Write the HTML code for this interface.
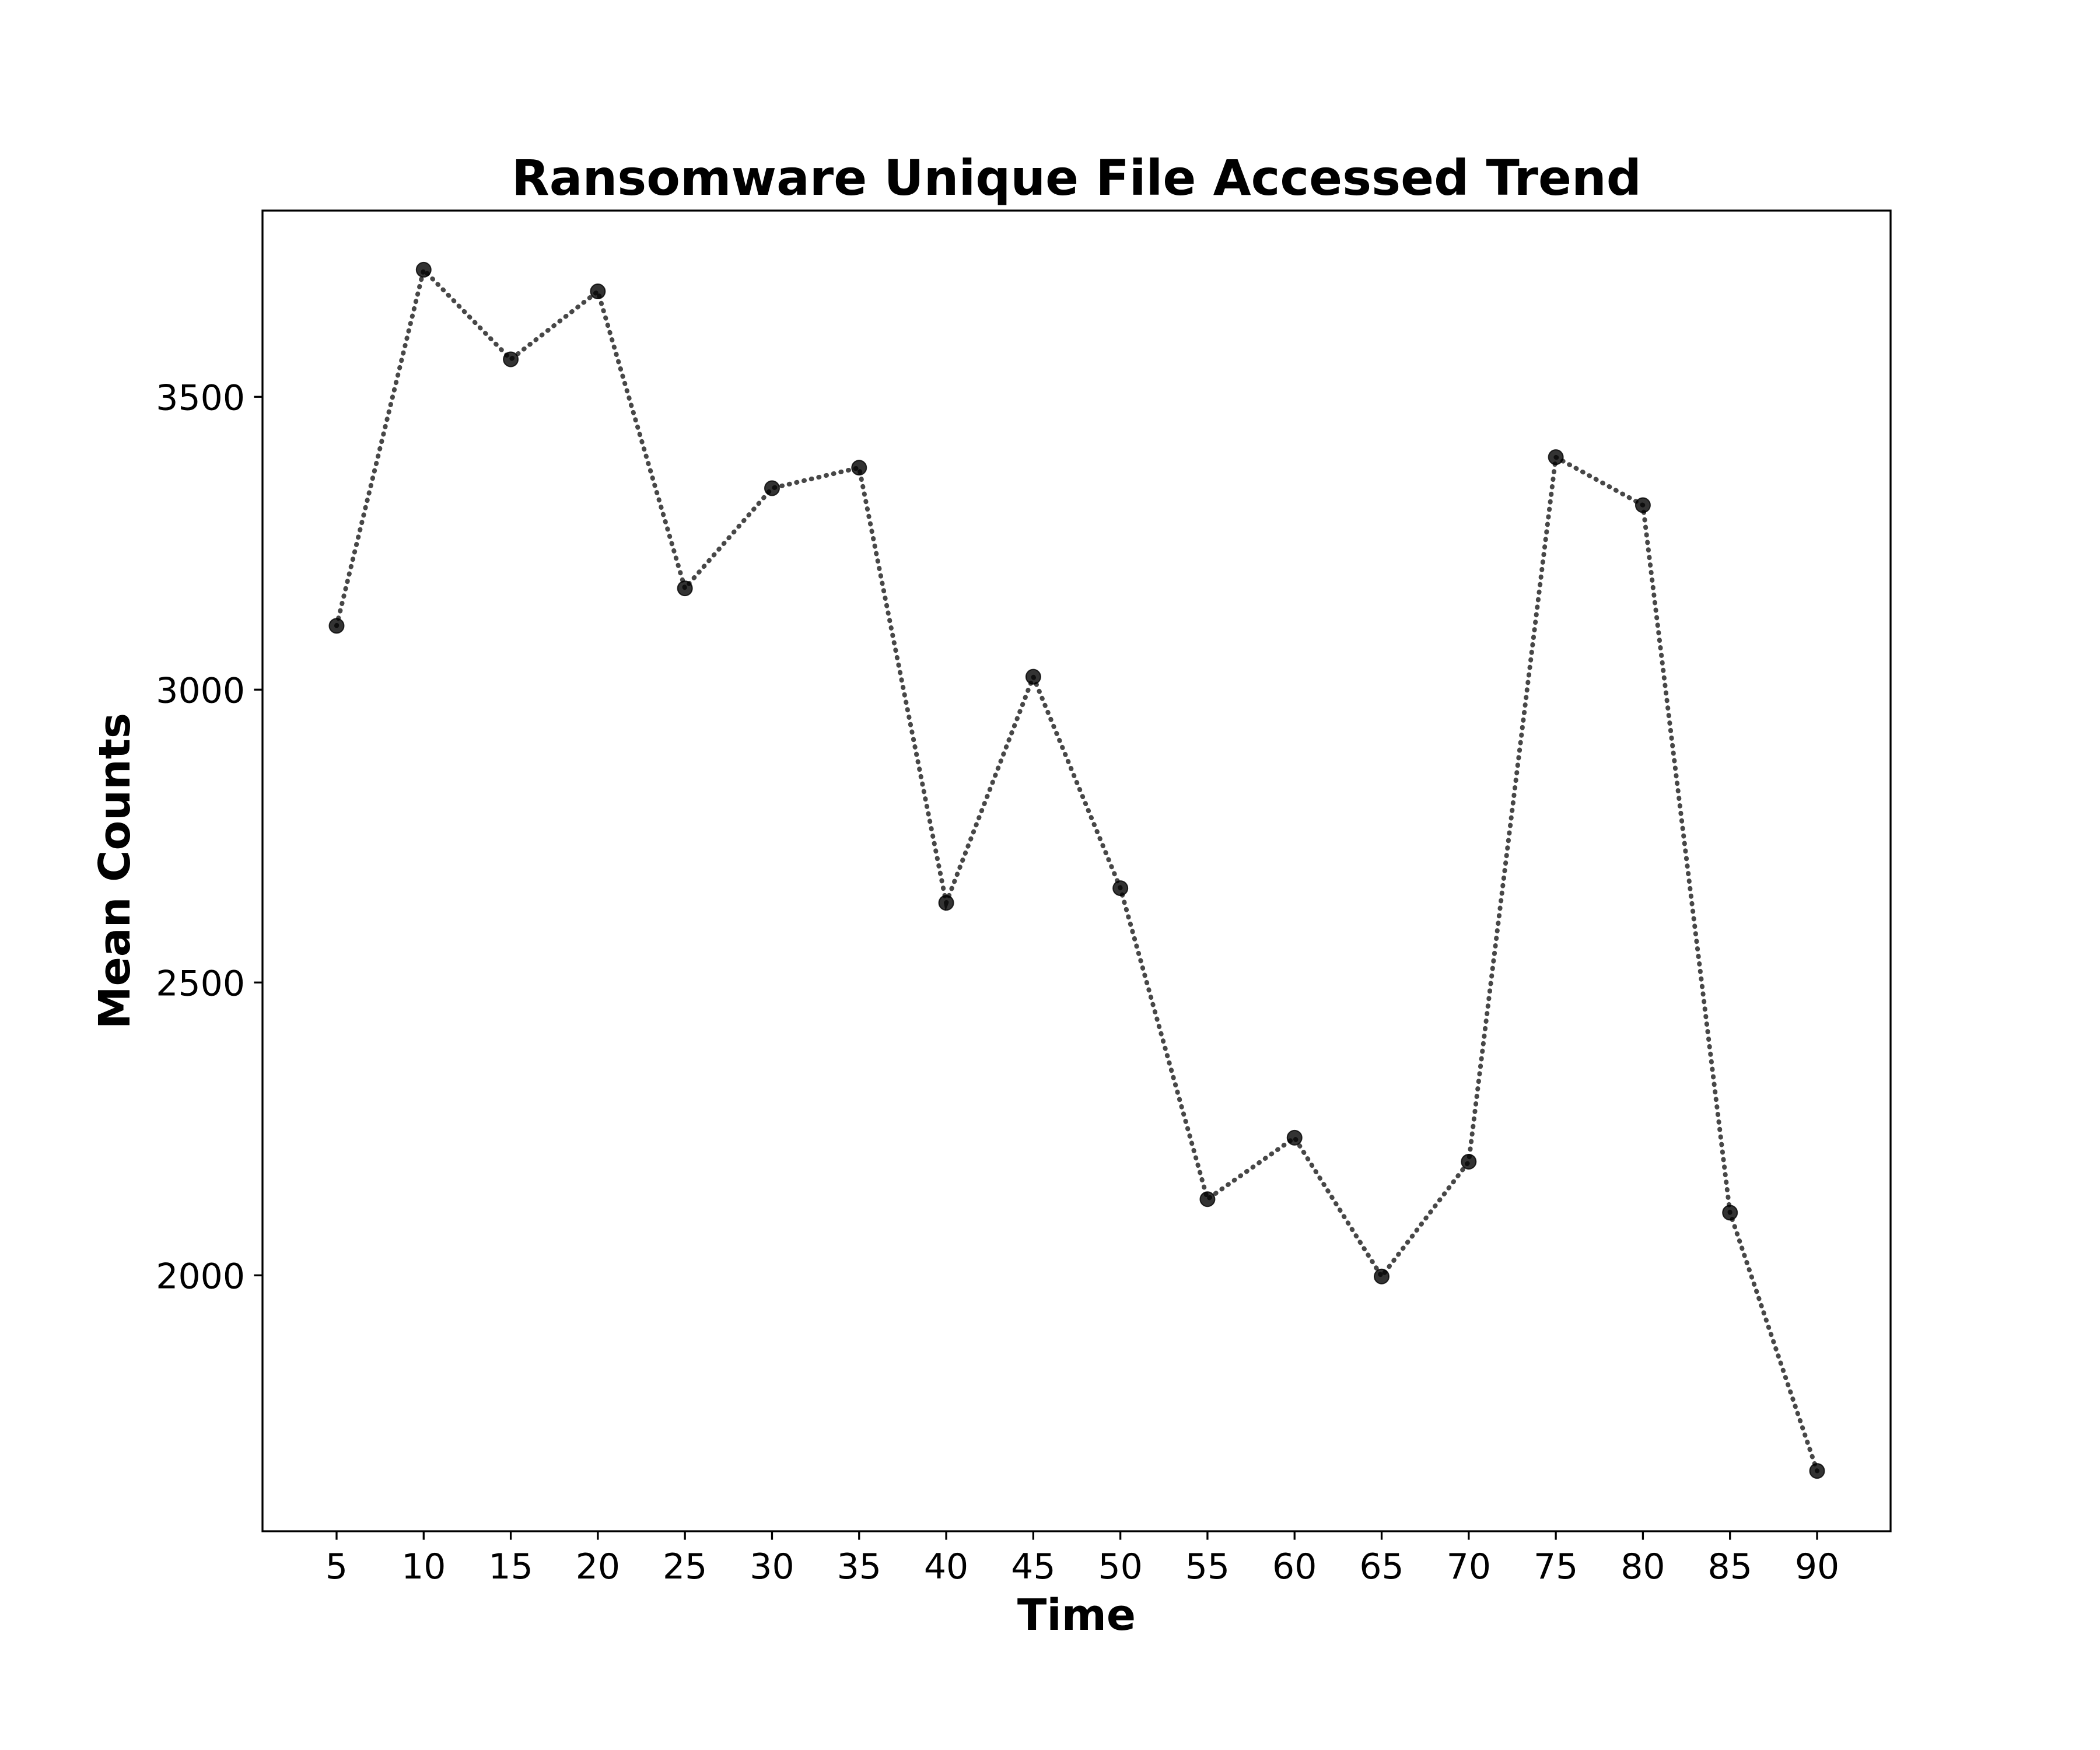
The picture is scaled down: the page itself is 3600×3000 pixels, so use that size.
<!DOCTYPE html>
<html><head><meta charset="utf-8"><style>
html,body{margin:0;padding:0;background:#fff;}
svg{display:block;font-family:"DejaVu Sans","Liberation Sans",sans-serif;}
</style></head><body>
<svg id="chart" width="3600" height="3000" viewBox="0 0 3600 3000">
<rect width="3600" height="3000" fill="#fff"/>
<g id="plot"></g>
</svg>
<script>
const times=[5,10,15,20,25,30,35,40,45,50,55,60,65,70,75,80,85,90];
const meanCounts=[3109,3717,3564,3680,3173,3344,3379,2636,3022,2661,2130,2235,1998,2194,3397,3315,2107,1666];
const yTicks=[2000,2500,3000,3500];
const xTicks=[5,10,15,20,25,30,35,40,45,50,55,60,65,70,75,80,85,90];

const L=450,R=3241,T=361,B=2625;
const yMin=1563,yMax=3818;
function xs(v){return 577+(v-5)*(3115-577)/85;}
function ys(v){return B-(v-yMin)*(B-T)/(yMax-yMin);}
const NS='http://www.w3.org/2000/svg';
const g=document.getElementById('plot');
function mk(tag,attrs,text){const e=document.createElementNS(NS,tag);for(const k in attrs)e.setAttribute(k,attrs[k]);if(text!==undefined)e.textContent=text;g.appendChild(e);return e;}

let d=times.map((t,i)=>(i?'L':'M')+xs(t)+' '+ys(meanCounts[i])).join(' ');
const line=mk('path',{d:d,fill:'none',stroke:'#333','stroke-opacity':'0.9','stroke-width':'8','stroke-dasharray':'1 12','stroke-linecap':'round'});


times.forEach((t,i)=>{
  const c=mk('circle',{cx:xs(t),cy:ys(meanCounts[i]),r:12.5,fill:'#000','fill-opacity':'0.8',stroke:'#000','stroke-opacity':'0.8','stroke-width':'2'});
  
  
});
const fr=mk('rect',{x:L,y:T,width:R-L,height:B-T,fill:'none',stroke:'#000','stroke-width':'3.3'});


xTicks.forEach(v=>{
  const x=xs(v);
  mk('line',{x1:x,x2:x,y1:B,y2:B+14.6,stroke:'#000','stroke-width':'3.3'});
  const t=mk('text',{x:x,y:B+81,'font-size':'60','text-anchor':'middle',fill:'#000'},String(v));
  
  
});
yTicks.forEach(v=>{
  const y=ys(v);
  mk('line',{x1:L-14.6,x2:L,y1:y,y2:y,stroke:'#000','stroke-width':'3.3'});
  const t=mk('text',{x:L-30,y:y+22,'font-size':'60','text-anchor':'end',fill:'#000'},String(v));
  
  
});
const title=mk('text',{x:(L+R)/2,y:334,'font-size':'84','font-weight':'bold','text-anchor':'middle'},'Ransomware Unique File Accessed Trend');


const xl=mk('text',{x:(L+R)/2,y:2794,'font-size':'74','font-weight':'bold','text-anchor':'middle'},'Time');


const yl=mk('text',{x:0,y:0,'font-size':'74','font-weight':'bold','text-anchor':'middle',transform:'translate(222 '+((T+B)/2)+') rotate(-90)'},'Mean Counts');


</script>
</body></html>
